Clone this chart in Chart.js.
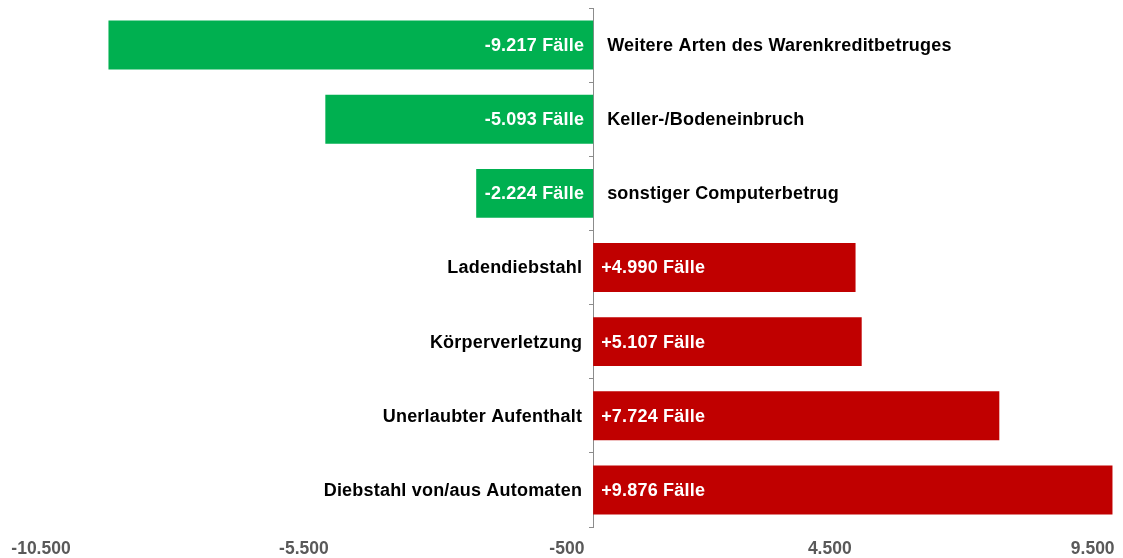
<!DOCTYPE html>
<html>
<head>
<meta charset="utf-8">
<script src="https://cdn.jsdelivr.net/npm/chart.js@4"></script>
<style>
  html, body { margin: 0; padding: 0; background: #fff; }
  #wrap { width: 1123px; height: 558px; }
</style>
</head>
<body>
<div id="wrap"><canvas id="chart" width="1123" height="558"></canvas></div>
<script>
const categories = [
  "Weitere Arten des Warenkreditbetruges",
  "Keller-/Bodeneinbruch",
  "sonstiger Computerbetrug",
  "Ladendiebstahl",
  "Körperverletzung",
  "Unerlaubter Aufenthalt",
  "Diebstahl von/aus Automaten"
];
const changes = [-9217, -5093, -2224, 4990, 5107, 7724, 9876];
const tickValues = [-10500, -5500, -500, 4500, 9500];

const FONT = "'Liberation Sans', Arial, sans-serif";

// Zahl mit Tausenderpunkt
function fmt(n) {
  const s = Math.abs(n).toString().replace(/\B(?=(\d{3})+(?!\d))/g, ".");
  return (n < 0 ? "-" : "") + s;
}

// Beschriftungen an den Balken
const barLabels = {
  id: "barLabels",
  afterDatasetsDraw(chart) {
    const ctx = chart.ctx;
    const meta = chart.getDatasetMeta(0);
    ctx.save();
    ctx.font = "bold 18px " + FONT;
    ctx.letterSpacing = "0.2px";
    ctx.textBaseline = "middle";
    meta.data.forEach((bar, i) => {
      const v = changes[i];
      const y = bar.y + 1;
      if (v < 0) {
        ctx.fillStyle = "#ffffff";
        ctx.textAlign = "right";
        ctx.fillText(fmt(v) + " Fälle", bar.base - 9, y);
        ctx.fillStyle = "#000000";
        ctx.textAlign = "left";
        ctx.fillText(categories[i], bar.base + 14, y);
      } else {
        ctx.fillStyle = "#ffffff";
        ctx.textAlign = "left";
        ctx.fillText("+" + fmt(v) + " Fälle", bar.base + 8, y);
        ctx.fillStyle = "#000000";
        ctx.textAlign = "right";
        ctx.fillText(categories[i], bar.base - 11, y);
      }
    });
    ctx.restore();
  }
};

new Chart(document.getElementById("chart"), {
  type: "bar",
  data: {
    labels: categories,
    datasets: [{
      data: changes,
      backgroundColor: changes.map(v => v < 0 ? "#00B050" : "#C00000"),
      borderWidth: 0,
      barPercentage: 0.66,
      categoryPercentage: 1
    }]
  },
  options: {
    indexAxis: "y",
    responsive: false,
    animation: false,
    layout: { padding: { top: 8, left: 41, right: 4, bottom: 0 } },
    plugins: { legend: { display: false }, tooltip: { enabled: false } },
    scales: {
      x: {
        min: -10500,
        max: 10000,
        afterBuildTicks: scale => { scale.ticks = tickValues.map(v => ({ value: v })); },
        afterFit: scale => {
          scale.height = 31;
          scale.paddingLeft = 0;
          scale.paddingRight = 0;
        },
        grid: { display: false, drawTicks: false },
        border: { display: false },
        ticks: {
          autoSkip: false,
          maxRotation: 0,
          padding: 13,
          color: "#595959",
          font: { family: FONT, size: 17.5, weight: "bold", lineHeight: 1 },
          callback: v => fmt(v)
        }
      },
      y: {
        position: { x: 0 },
        grid: { drawOnChartArea: false, drawTicks: true, tickLength: 4, color: "#8c8c8c", offset: true },
        border: { display: true, color: "#8c8c8c", width: 1 },
        ticks: { display: false }
      }
    }
  },
  plugins: [barLabels]
});
</script>
</body>
</html>
